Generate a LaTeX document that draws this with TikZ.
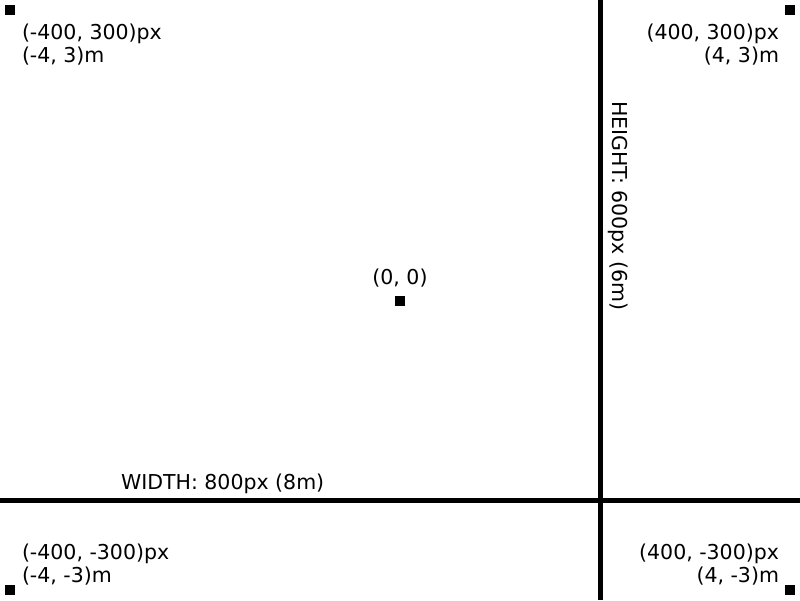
\documentclass[tikz,border=0pt]{standalone}
\usepackage{fontspec}
\setmainfont{DejaVu Sans}
\begin{document}
\begin{tikzpicture}[x=1pt,y=-1pt,
  lbl/.style={inner sep=0pt,outer sep=0pt,font=\fontsize{20.5}{23}\selectfont,text=black},
  mark box/.style={fill=black,draw=none,minimum size=10pt,inner sep=0pt,outer sep=0pt,rectangle},
  axisline/.style={line width=5pt,draw=black}]
\useasboundingbox[fill=white] (0,0) rectangle (800,600);
% axis lines
\coordinate (hl) at (0,500);
\coordinate (hr) at (800,500);
\coordinate (vt) at (600,0);
\coordinate (vb) at (600,600);
\draw[axisline] (hl) -- (hr);
\draw[axisline] (vt) -- (vb);
% marker squares
\node[mark box] (tl) at (10,10) {};
\node[mark box] (tr) at (790,10) {};
\node[mark box] (bl) at (10,590) {};
\node[mark box] (br) at (790,590) {};
\node[mark box] (origin) at (400,301) {};
% labels
\node[lbl,anchor=base west] (tl1) at (22,39.5) {(-400, 300)px};
\node[lbl,anchor=base west] (tl2) at (22,62.5) {(-4, 3)m};
\node[lbl,anchor=base east] (tr1) at (779,39.5) {(400, 300)px};
\node[lbl,anchor=base east] (tr2) at (779,62.5) {(4, 3)m};
\node[lbl,anchor=base west] (bl1) at (22,559) {(-400, -300)px};
\node[lbl,anchor=base west] (bl2) at (22,582) {(-4, -3)m};
\node[lbl,anchor=base east] (br1) at (779,559) {(400, -300)px};
\node[lbl,anchor=base east] (br2) at (779,582) {(4, -3)m};
\node[lbl,anchor=base] (ol) at (400,284) {(0, 0)};
\node[lbl,anchor=base west] (wl) at (121,489) {WIDTH: 800px (8m)};
\node[lbl,anchor=base west,rotate=-90] (hlab) at (612,101) {HEIGHT: 600px (6m)};
\end{tikzpicture}
\end{document}
